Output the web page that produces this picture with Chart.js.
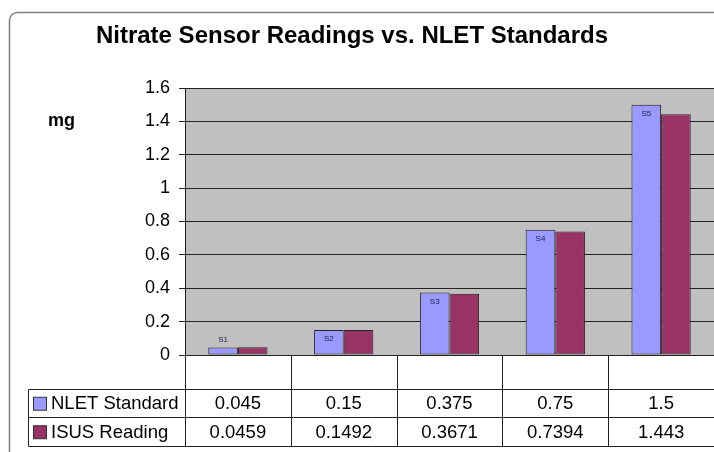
<!DOCTYPE html>
<html>
<head>
<meta charset="utf-8">
<script src="https://cdn.jsdelivr.net/npm/chart.js@4/dist/chart.umd.min.js"></script>
<style>
  html, body { margin: 0; padding: 0; background: #fff; }
  #wrap { width: 714px; height: 452px; position: relative; }
</style>
</head>
<body>
<div id="wrap"><canvas id="c" width="714" height="452"></canvas></div>
<script>
// Sample IDs and measured nitrate values (mg)
const sampleLabels = ['S1', 'S2', 'S3', 'S4', 'S5'];
const seriesNames = ['NLET Standard', 'ISUS Reading'];
const nletStandard = [0.045, 0.15, 0.375, 0.75, 1.5];
const isusReading = [0.0459, 0.1492, 0.3671, 0.7394, 1.443];
const yTicks = [0, 0.2, 0.4, 0.6, 0.8, 1, 1.2, 1.4, 1.6];

const chartTitle = 'Nitrate Sensor Readings vs. NLET Standards';
const unitLabel = 'mg';
const seriesColors = ['#9999FF', '#993366'];
const FONT = "'Liberation Sans', Arial, sans-serif";

// Frame, plot background, title and unit label
const backdrop = {
  id: 'backdrop',
  beforeDraw(chart) {
    const { ctx, chartArea: a } = chart;
    ctx.save();
    ctx.fillStyle = '#fff';
    ctx.fillRect(0, 0, chart.width, chart.height);
    // rounded outer frame
    ctx.strokeStyle = '#808080';
    ctx.lineWidth = 1.5;
    ctx.beginPath();
    ctx.roundRect(9.5, 12.5, chart.width + 20, chart.height + 20, 8);
    ctx.stroke();
    // plot area fill
    ctx.fillStyle = '#C0C0C0';
    ctx.fillRect(a.left, a.top, a.right - a.left, a.bottom - a.top);
    // title
    ctx.fillStyle = '#000';
    ctx.font = 'bold 24px ' + FONT;
    ctx.textAlign = 'center';
    ctx.textBaseline = 'middle';
    ctx.fillText(chartTitle, 352, 36);
    // unit label beside the value axis
    const y = chart.scales.y;
    ctx.font = 'bold 18px ' + FONT;
    ctx.textAlign = 'left';
    ctx.fillText(unitLabel, 48, y.getPixelForValue(1.4));
    ctx.restore();
  }
};

// Sample tags on the standard bars, plus the data table below the axis
const tableAndTags = {
  id: 'tableAndTags',
  afterDraw(chart) {
    const { ctx, chartArea: a } = chart;
    const xs = chart.scales.x;
    const n = sampleLabels.length;
    const colW = (a.right - a.left) / n;
    ctx.save();

    // tags S1..S5 on the first series
    const meta = chart.getDatasetMeta(0);
    ctx.font = '8px ' + FONT;
    ctx.fillStyle = '#1a1a40';
    ctx.textAlign = 'center';
    ctx.textBaseline = 'middle';
    meta.data.forEach((bar, i) => {
      const h = bar.base - bar.y;
      const ty = h > 18 ? bar.y + 9 : bar.y - 8;
      ctx.fillText(sampleLabels[i], bar.x, ty);
    });

    // table grid
    const rowTop = a.bottom + 33.5;
    const rowH = 28.5;
    const tableLeft = 28.5;
    const right = chart.width;
    ctx.strokeStyle = '#222';
    ctx.lineWidth = 1;
    ctx.beginPath();
    for (let r = 0; r <= 2; r++) {
      const y = Math.round(rowTop + r * rowH) + 0.5;
      ctx.moveTo(tableLeft, y);
      ctx.lineTo(right, y);
    }
    const bottom = Math.round(rowTop + 2 * rowH) + 0.5;
    for (let i = 0; i < n; i++) {
      const x = Math.round(a.left + i * colW) + 0.5;
      ctx.moveTo(x, a.bottom);
      ctx.lineTo(x, bottom);
    }
    ctx.moveTo(tableLeft, Math.round(rowTop) + 0.5);
    ctx.lineTo(tableLeft, bottom);
    ctx.stroke();

    // legend keys and values
    const rows = [nletStandard, isusReading];
    ctx.font = '18.5px ' + FONT;
    rows.forEach((vals, r) => {
      const cy = rowTop + r * rowH + rowH / 2 + 0.5;
      ctx.fillStyle = seriesColors[r];
      ctx.fillRect(33.5, cy - 6, 13, 13);
      ctx.strokeStyle = '#333';
      ctx.strokeRect(33.5, cy - 6, 13, 13);
      ctx.fillStyle = '#000';
      ctx.textAlign = 'left';
      ctx.fillText(seriesNames[r], 51, cy + 1);
      ctx.textAlign = 'center';
      vals.forEach((v, i) => {
        ctx.fillText(String(v), xs.getPixelForValue(i), cy + 1);
      });
    });
    ctx.restore();
  }
};

new Chart(document.getElementById('c'), {
  type: 'bar',
  data: {
    labels: sampleLabels,
    datasets: [
      { label: seriesNames[0], data: nletStandard, backgroundColor: seriesColors[0] },
      { label: seriesNames[1], data: isusReading, backgroundColor: seriesColors[1] }
    ]
  },
  options: {
    responsive: false,
    animation: false,
    devicePixelRatio: 1,
    layout: { padding: { left: 0, right: 0, top: 88, bottom: 97 } },
    datasets: {
      bar: {
        categoryPercentage: 0.56,
        barPercentage: 1.0,
        borderColor: '#222',
        borderWidth: 1,
        borderSkipped: false
      }
    },
    plugins: {
      legend: { display: false },
      title: { display: false },
      tooltip: { enabled: false }
    },
    scales: {
      x: { display: false },
      y: {
        min: 0,
        max: 1.6,
        afterFit(scale) { scale.width = 185; },
        afterBuildTicks(scale) { scale.ticks = yTicks.map(v => ({ value: v })); },
        ticks: {
          padding: 9,
          color: '#000',
          font: { family: FONT, size: 18 },
          callback: v => String(v)
        },
        grid: {
          color: '#222',
          lineWidth: 1,
          drawTicks: true,
          tickLength: 6,
          tickColor: '#222'
        },
        border: { display: true, color: '#222', width: 1 }
      }
    }
  },
  plugins: [backdrop, tableAndTags]
});
</script>
</body>
</html>
